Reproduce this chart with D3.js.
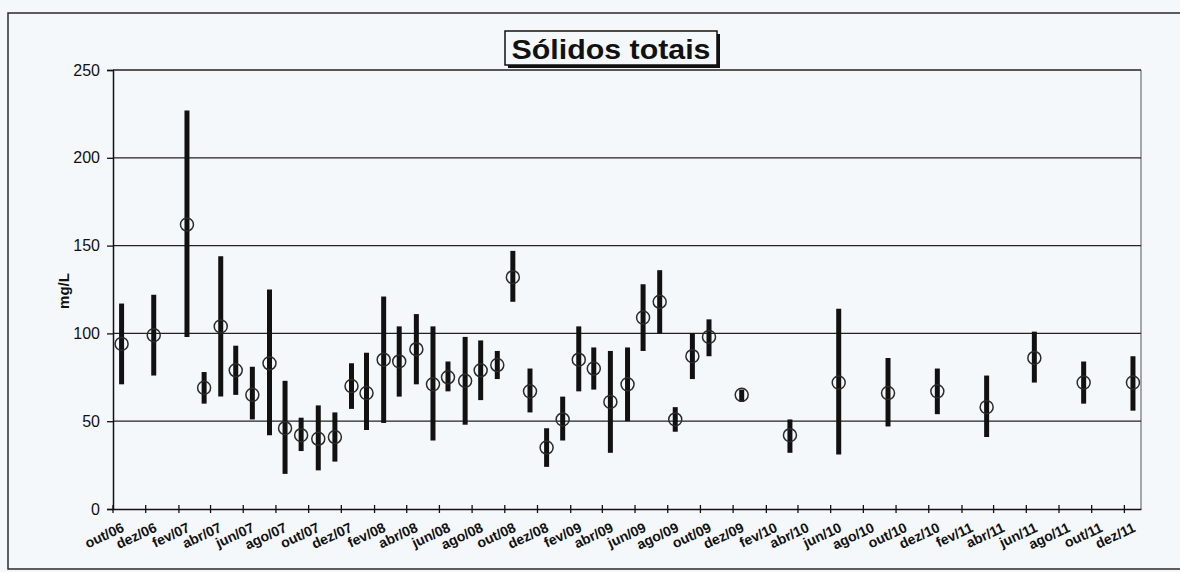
<!DOCTYPE html>
<html>
<head>
<meta charset="utf-8">
<script src="https://cdn.jsdelivr.net/npm/d3@7"></script>
<style>
    body { margin: 0; background: #f5f8fb; }
    svg text { font-family: Arial, "Liberation Sans", sans-serif; fill: #111; }
</style>
</head>
<body>
<div id="chart"></div>
<script>
//sampling dates, mean (circle) and min / max (bar) of total solids, mg/L
var sampleDates = [
    '2006-10-17','2006-12-16','2007-02-16','2007-03-20','2007-04-20','2007-05-18',
    '2007-06-18','2007-07-20','2007-08-18','2007-09-17','2007-10-19','2007-11-19',
    '2007-12-20','2008-01-17','2008-02-18','2008-03-18','2008-04-19','2008-05-20',
    '2008-06-17','2008-07-19','2008-08-17','2008-09-17','2008-10-16','2008-11-17',
    '2008-12-18','2009-01-17','2009-02-16','2009-03-16','2009-04-16','2009-05-18',
    '2009-06-16','2009-07-17','2009-08-15','2009-09-16','2009-10-17','2009-12-17',
    '2010-03-17','2010-06-16','2010-09-16','2010-12-17','2011-03-19','2011-06-16',
    '2011-09-16','2011-12-17'
];
var meanValues = [94, 99, 162, 69, 104, 79, 65, 83, 46, 42, 40, 41, 70, 66, 85, 84, 91, 71,
    75, 73, 79, 82, 132, 67, 35, 51, 85, 80, 61, 71, 109, 118, 51, 87, 98, 65, 42, 72, 66, 67,
    58, 86, 72, 72];
var minValues = [71, 76, 98, 60, 64, 65, 51, 42, 20, 33, 22, 27, 57, 45, 49, 64, 71, 39,
    67, 48, 62, 74, 118, 55, 24, 39, 67, 68, 32, 50, 90, 100, 44, 74, 87, 61, 32, 31, 47, 54,
    41, 72, 60, 56];
var maxValues = [117, 122, 227, 78, 144, 93, 81, 125, 73, 52, 59, 55, 83, 89, 121, 104, 111, 104,
    84, 98, 96, 90, 147, 80, 46, 64, 104, 92, 90, 92, 128, 136, 58, 100, 108, 68, 51, 114, 86, 80,
    76, 101, 84, 87];
var monthNames = ['jan','fev','mar','abr','mai','jun','jul','ago','set','out','nov','dez'];
var yTicks = [0, 50, 100, 150, 200, 250];
var axisStart = '2006-10-01', axisEnd = '2012-01-01';
var titleText = 'Sólidos totais', yLabel = 'mg/L';

var width = 1180, height = 572,
    plot = { left: 113, right: 1141, top: 70, bottom: 509 },
    parse = d3.timeParse('%Y-%m-%d');

var points = sampleDates.map(function(d, i){
    return { date: parse(d), mean: meanValues[i], min: minValues[i], max: maxValues[i] };
});

var x = d3.scaleTime()
    .domain([parse(axisStart), parse(axisEnd)])
    .range([plot.left, plot.right]);
var y = d3.scaleLinear()
    .domain([0, 250])
    .range([plot.bottom, plot.top]);

var svg = d3.select('#chart').append('svg')
    .attr('width', width)
    .attr('height', height);

svg.append('rect')
    .attr('width', width).attr('height', height)
    .attr('fill', '#f5f8fb');

//outer chart frame
svg.append('rect')
    .attr('x', 8).attr('y', 13)
    .attr('width', 1190).attr('height', 556)
    .attr('fill', 'none')
    .attr('stroke', '#2a2a2a')
    .attr('stroke-width', 1.5);

//plot area right border
svg.append('line')
    .attr('x1', plot.right).attr('x2', plot.right)
    .attr('y1', plot.top).attr('y2', plot.bottom)
    .attr('stroke', '#555').attr('stroke-width', 1);

//horizontal gridlines
svg.append('g')
    .selectAll('line')
    .data(yTicks.slice(1))
    .enter()
    .append('line')
    .attr('x1', plot.left).attr('x2', plot.right)
    .attr('y1', function(d){ return y(d); })
    .attr('y2', function(d){ return y(d); })
    .attr('stroke', '#222')
    .attr('stroke-width', 1.3);

//y axis
var yAxis = svg.append('g')
    .attr('transform', 'translate(' + plot.left + ',0)')
    .call(d3.axisLeft(y).tickValues(yTicks).tickSize(6).tickPadding(7));
yAxis.select('.domain').attr('stroke', '#111').attr('stroke-width', 1.5);
yAxis.selectAll('.tick line').attr('stroke', '#111').attr('stroke-width', 1.3);
yAxis.selectAll('.tick text')
    .style('font-size', '16px')
    .attr('fill', '#111');

//x axis with a tick every two months
var xTicks = d3.timeMonth.range(parse(axisStart), parse('2011-12-02'), 2);
var xAxis = svg.append('g')
    .attr('transform', 'translate(0,' + plot.bottom + ')')
    .call(d3.axisBottom(x).tickValues(xTicks).tickSize(0).tickFormat(''));
xAxis.select('.domain').attr('stroke', '#111').attr('stroke-width', 1.5);

svg.append('g')
    .selectAll('line')
    .data(xTicks)
    .enter()
    .append('line')
    .attr('x1', function(d){ return x(d); })
    .attr('x2', function(d){ return x(d); })
    .attr('y1', plot.bottom - 4)
    .attr('y2', plot.bottom + 4)
    .attr('stroke', '#111')
    .attr('stroke-width', 1.3);

svg.append('g')
    .selectAll('text')
    .data(xTicks)
    .enter()
    .append('text')
    .attr('transform', function(d){
        return 'translate(' + (x(d) + 12) + ',' + (plot.bottom + 22) + ') rotate(-25)';
    })
    .attr('text-anchor', 'end')
    .style('font-size', '14px')
    .style('font-weight', 'bold')
    .text(function(d){
        return monthNames[d.getMonth()] + '/' + d3.timeFormat('%y')(d);
    });

//min-max bars
svg.append('g')
    .selectAll('line')
    .data(points)
    .enter()
    .append('line')
    .attr('x1', function(d){ return x(d.date); })
    .attr('x2', function(d){ return x(d.date); })
    .attr('y1', function(d){ return y(d.min); })
    .attr('y2', function(d){ return y(d.max); })
    .attr('stroke', '#111')
    .attr('stroke-width', 5);

//mean markers
svg.append('g')
    .selectAll('circle')
    .data(points)
    .enter()
    .append('circle')
    .attr('cx', function(d){ return x(d.date); })
    .attr('cy', function(d){ return y(d.mean); })
    .attr('r', 6.5)
    .attr('fill', 'none')
    .attr('stroke', '#2a2a2a')
    .attr('stroke-width', 1.5);

//y label
svg.append('text')
    .attr('transform', 'translate(69,291) rotate(-90)')
    .attr('text-anchor', 'middle')
    .style('font-size', '15px')
    .style('font-weight', 'bold')
    .text(yLabel);

//title box with shadow
var title = svg.append('g');
title.append('rect')
    .attr('x', 508).attr('y', 34)
    .attr('width', 212).attr('height', 34)
    .attr('fill', '#111');
title.append('rect')
    .attr('x', 505).attr('y', 31)
    .attr('width', 212).attr('height', 34)
    .attr('fill', '#f5f8fb')
    .attr('stroke', '#111')
    .attr('stroke-width', 1.5);
title.append('text')
    .attr('x', 611).attr('y', 59)
    .attr('text-anchor', 'middle')
    .attr('textLength', 199)
    .attr('lengthAdjust', 'spacingAndGlyphs')
    .style('font-size', '27px')
    .style('font-weight', 'bold')
    .text(titleText);
</script>
</body>
</html>
